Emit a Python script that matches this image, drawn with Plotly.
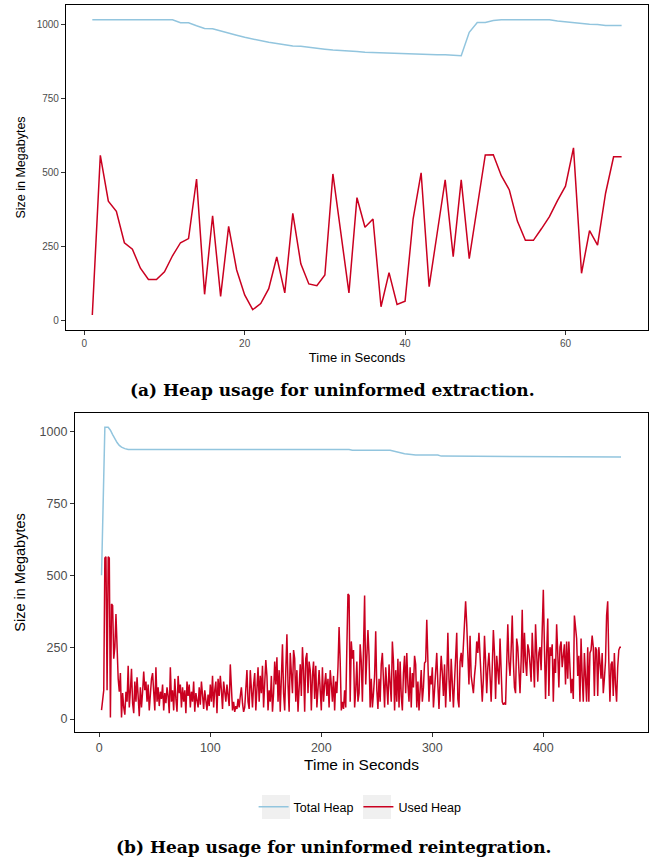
import plotly.graph_objects as go

# ---------- (a) uninformed extraction ----------
a_time = list(range(1, 68))
a_total = [1015, 1015, 1015, 1015, 1014, 1015, 1015, 1015, 1015, 1015,
           1015, 1005, 1005, 995, 986, 985, 977, 970, 963, 956,
           950, 944, 939, 935, 931, 927, 926, 922, 919, 916,
           913, 912, 910, 908, 906, 905, 903, 902, 901, 899,
           899, 898, 898, 897, 897, 896, 894, 973, 1006, 1006,
           1013, 1015, 1015, 1015, 1015, 1015, 1015, 1015, 1011, 1008,
           1006, 1002, 1000, 999, 996, 996, 996]
a_used = [19, 558, 403, 369, 263, 241, 177, 139, 139, 165,
          219, 263, 277, 478, 89, 354, 82, 318, 171, 87,
          37, 58, 108, 215, 94, 362, 192, 124, 118, 154,
          495, 290, 94, 415, 315, 343, 47, 162, 55, 66,
          343, 499, 115, 295, 475, 216, 475, 209, 385, 559,
          560, 489, 441, 336, 271, 271, 310, 351, 405, 454,
          583, 160, 304, 255, 430, 553, 553]

# ---------- (b) uninformed reintegration ----------
b_total_time = [2, 5, 8, 10, 12, 14, 16, 18, 20, 23, 26, 225, 228, 262,
                268, 275, 285, 305, 308, 385, 392, 470]
b_total = [500, 1015, 1015, 1005, 990, 975, 962, 952, 946, 941, 938, 938,
           935, 935, 929, 923, 919, 919, 915, 914, 912, 912]

b_used = [
    # t = 2 .. 20
    31, 60, 100, 560, 565, 100, 565, 560, 5, 400, 395, 210, 250, 365, 230, 140, 95, 160, 5,
    # t = 21 .. 68
    90, 40, 15, 95, 60, 185, 40, 100, 175, 55, 20, 130, 60, 145, 75, 10, 110, 40, 95, 165,
    100, 130, 60, 120, 30, 110, 140, 160, 70, 30, 180, 60, 110, 45, 95, 70, 120, 30, 90, 55,
    110, 80, 20, 180, 60, 100, 30, 140,
    # t = 69 .. 138
    70, 25, 150, 90, 120, 40, 110, 60, 100, 20, 130, 80, 120, 40, 95, 60, 130, 25, 90, 70,
    40, 110, 50, 130, 80, 35, 100, 60, 30, 85, 45, 120, 60, 150, 40, 100, 130, 20, 140, 80,
    150, 100, 35, 130, 90, 60, 120, 70, 45, 190, 100, 30, 60, 25, 45, 35, 70, 40, 80, 110,
    55, 25, 40, 100, 170, 60, 35, 170, 80, 40,
    # t = 139 .. 208
    120, 160, 30, 110, 180, 60, 150, 90, 185, 40, 120, 205, 150, 30, 100, 60, 150, 25, 90, 200,
    120, 215, 60, 170, 25, 140, 260, 90, 30, 170, 295, 120, 25, 230, 150, 90, 240, 210, 60, 170,
    25, 140, 190, 80, 250, 170, 25, 210, 230, 90, 200, 170, 30, 150, 200, 70, 185, 40, 130, 170,
    100, 30, 180, 60, 120, 160, 80, 140, 40, 170,
    # t = 209 .. 278
    120, 60, 150, 30, 130, 90, 180, 320, 200, 30, 60, 35, 100, 40, 250, 435, 430, 60, 270, 210,
    240, 40, 100, 200, 60, 90, 260, 200, 60, 250, 430, 120, 200, 310, 220, 40, 140, 40, 90, 150,
    305, 100, 35, 140, 60, 190, 230, 100, 40, 180, 120, 50, 190, 140, 60, 270, 200, 30, 170, 60,
    210, 40, 200, 80, 30, 160, 220, 90, 230, 120,
    # t = 279 .. 348
    60, 180, 40, 160, 110, 220, 190, 40, 130, 30, 90, 170, 60, 110, 195, 200, 345, 210, 60, 150,
    120, 180, 40, 100, 160, 230, 120, 35, 140, 220, 160, 80, 190, 40, 140, 300, 140, 60, 210, 100,
    40, 130, 200, 300, 70, 40, 200, 230, 180, 260, 330, 410, 330, 250, 120, 290, 150, 120, 90, 150,
    190, 270, 230, 300, 220, 130, 60, 140, 290, 200,
    # t = 349 .. 418
    90, 180, 230, 150, 60, 180, 310, 230, 70, 220, 160, 120, 280, 180, 60, 50, 55, 50, 200, 330,
    200, 150, 240, 360, 200, 110, 90, 280, 250, 150, 90, 200, 380, 160, 300, 200, 150, 260, 240, 190,
    130, 300, 200, 110, 330, 200, 130, 230, 250, 170, 360, 450, 250, 70, 230, 350, 80, 250, 220, 260,
    60, 210, 160, 330, 230, 110, 250, 270, 180, 240,
    # t = 419 .. 470
    260, 120, 270, 140, 270, 180, 90, 140, 70, 360, 320, 280, 150, 220, 60, 280, 150, 60, 230, 120,
    60, 250, 60, 230, 240, 290, 250, 80, 250, 240, 80, 250, 170, 140, 230, 90, 140, 200, 360, 410,
    200, 60, 190, 200, 80, 230, 120, 60, 180, 240, 250, 250,
]
b_used_time = list(range(2, 2 + len(b_used)))

y_ticks = [0, 250, 500, 750, 1000]
a_x_ticks = [0, 20, 40, 60]
b_x_ticks = [0, 100, 200, 300, 400]

BLUE = "#92c5de"
RED = "#ca0020"
FONT = "Liberation Sans"
W, H = 650, 859

fig = go.Figure()
fig.add_trace(go.Scatter(x=a_time, y=a_total, mode="lines", line=dict(color=BLUE, width=1.5),
                         xaxis="x", yaxis="y", showlegend=False, name="Total Heap"))
fig.add_trace(go.Scatter(x=a_time, y=a_used, mode="lines", line=dict(color=RED, width=1.5),
                         xaxis="x", yaxis="y", showlegend=False, name="Used Heap"))
fig.add_trace(go.Scatter(x=b_total_time, y=b_total, mode="lines", line=dict(color=BLUE, width=1.5),
                         xaxis="x2", yaxis="y2", name="Total Heap"))
fig.add_trace(go.Scatter(x=b_used_time, y=b_used, mode="lines", line=dict(color=RED, width=1.5),
                         xaxis="x2", yaxis="y2", name="Used Heap"))

axis_common = dict(showline=True, mirror=True, linecolor="black", linewidth=1.2,
                   ticks="outside", ticklen=4, tickcolor="#333333", showgrid=False,
                   zeroline=False)

# light grey legend key backgrounds (ggplot style)
key_boxes = []
for x0 in (262, 363):
    key_boxes.append(dict(type="rect", xref="paper", yref="paper",
                          x0=x0 / W, x1=(x0 + 28) / W, y0=1 - 819 / H, y1=1 - 795 / H,
                          fillcolor="#f0f0f0", line=dict(width=0), layer="below"))

fig.update_layout(
    width=W, height=H,
    margin=dict(l=0, r=0, t=0, b=0),
    paper_bgcolor="white", plot_bgcolor="white",
    font=dict(family=FONT, color="#000000"),
    xaxis=dict(domain=[66/W, 648/W], anchor="y", range=[-2.28, 70.29],
               tickvals=a_x_ticks, tickfont=dict(size=10, color="#4d4d4d"),
               title=dict(text="Time in Seconds", font=dict(size=13), standoff=4), **axis_common),
    yaxis=dict(domain=[1 - 330/H, 1 - 5/H], anchor="x", range=[-31.4, 1065],
               tickvals=y_ticks, tickfont=dict(size=10, color="#4d4d4d"),
               title=dict(text="Size in Megabytes", font=dict(size=12.5), standoff=8), **axis_common),
    xaxis2=dict(domain=[75/W, 648/W], anchor="y2", range=[-21.9, 494.3],
                tickvals=b_x_ticks, tickfont=dict(size=12.5, color="#4d4d4d"),
                title=dict(text="Time in Seconds", font=dict(size=15.5), standoff=4), **axis_common),
    yaxis2=dict(domain=[1 - 732.3/H, 1 - 412.7/H], anchor="x2", range=[-46.3, 1066],
                tickvals=y_ticks, tickfont=dict(size=12.5, color="#4d4d4d"),
                title=dict(text="Size in Megabytes", font=dict(size=14.5), standoff=10), **axis_common),
    legend=dict(orientation="h", x=0.554, xanchor="center", y=1 - 807/H, yanchor="middle",
                font=dict(size=12.5, color="#000000"), bgcolor="rgba(0,0,0,0)",
                itemwidth=30, tracegroupgap=0),
    shapes=key_boxes,
    annotations=[
        dict(text="<b>(a) Heap usage for uninformed extraction.</b>", x=332/W, y=1 - 390/H,
             xref="paper", yref="paper", showarrow=False, xanchor="center", yanchor="middle",
             font=dict(family="DejaVu Serif", size=17, color="black")),
        dict(text="<b>(b) Heap usage for uninformed reintegration.</b>", x=333/W, y=1 - 847/H,
             xref="paper", yref="paper", showarrow=False, xanchor="center", yanchor="middle",
             font=dict(family="DejaVu Serif", size=17, color="black")),
    ],
)

fig.write_html("out.html", config={"displayModeBar": False},
               post_script="document.body.style.margin='0';document.body.style.overflow='hidden';")
